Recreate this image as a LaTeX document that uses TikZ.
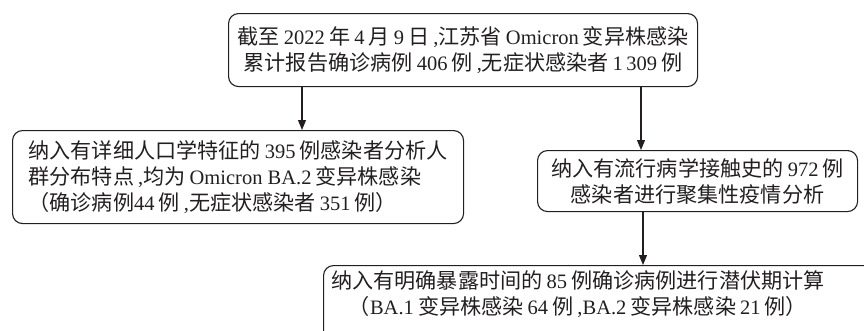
\documentclass[tikz,border=0pt]{standalone}
\usepackage{fontspec}
\setmainfont{Liberation Serif}
\newfontfamily\cjk{Noto Sans CJK SC}[Scale=1.03]
\newcommand\C[1]{{\cjk #1}}
\newcommand\gap{\hspace{0.2em}}
\usetikzlibrary{arrows.meta}
\definecolor{ink}{HTML}{231F20}
\begin{document}
\begin{tikzpicture}[x=1pt,y=-1pt,
  box/.style={draw=ink, line width=1.1pt, rounded corners=10pt, inner sep=0pt,
    font=\fontsize{20.5}{26}\selectfont, text=ink},
  txt/.style={inner sep=0pt, font=\fontsize{20.5}{26}\selectfont, text=ink},
  arr/.style={draw=ink, line width=1.1pt, -{Triangle[length=10pt,width=8pt]}}]
\useasboundingbox (0,0) rectangle (864,330);
\node[box, anchor=north west, minimum width=469pt, minimum height=73pt, align=center] (top) at (228,13)
 {\C{截至}\gap2022\gap\C{年}\gap4\gap\C{月}\gap9\gap\C{日}\gap,\C{江苏省}\gap Omicron\gap\C{变异株感染}\\
  \C{累计报告确诊病例}\gap406\gap\C{例}\gap,\C{无症状感染者}\gap1\,309\gap\C{例}};
\node[box, anchor=north west, minimum width=451pt, minimum height=93pt, align=left] (left) at (12,130)
 {\C{纳入有详细人口学特征的}\gap395\gap\C{例感染者分析人}\\
  \C{群分布特点}\gap,\C{均为}\gap Omicron BA.2\gap\C{变异株感染}\\
  \C{（确诊病例}44\gap\C{例}\gap,\C{无症状感染者}\gap351\gap\C{例）}};
\node[box, anchor=north west, minimum width=320pt, minimum height=61pt, align=center] (right) at (537,150)
 {\C{纳入有流行病学接触史的}\gap972\gap\C{例}\\
  \C{感染者进行聚集性疫情分析}};
\node[box, anchor=north west, minimum width=560pt, minimum height=90pt] (bot) at (323,265) {};
\node[txt, align=center] (bottxt) at (578,294)
 {\C{纳入有明确暴露时间的}\gap85\gap\C{例确诊病例进行潜伏期计算}\\
  \C{（}BA.1\gap\C{变异株感染}\gap64\gap\C{例}\gap,BA.2\gap\C{变异株感染}\gap21\gap\C{例）}};
\coordinate (xa) at (302,0);
\coordinate (xb) at (641,0);
\coordinate (xc) at (643,0);
\draw[arr] (top.south -| xa) -- (left.north -| xa);
\draw[arr] (top.south -| xb) -- (right.north -| xb);
\draw[arr] (right.south -| xc) -- (bot.north -| xc);
\end{tikzpicture}
\end{document}
